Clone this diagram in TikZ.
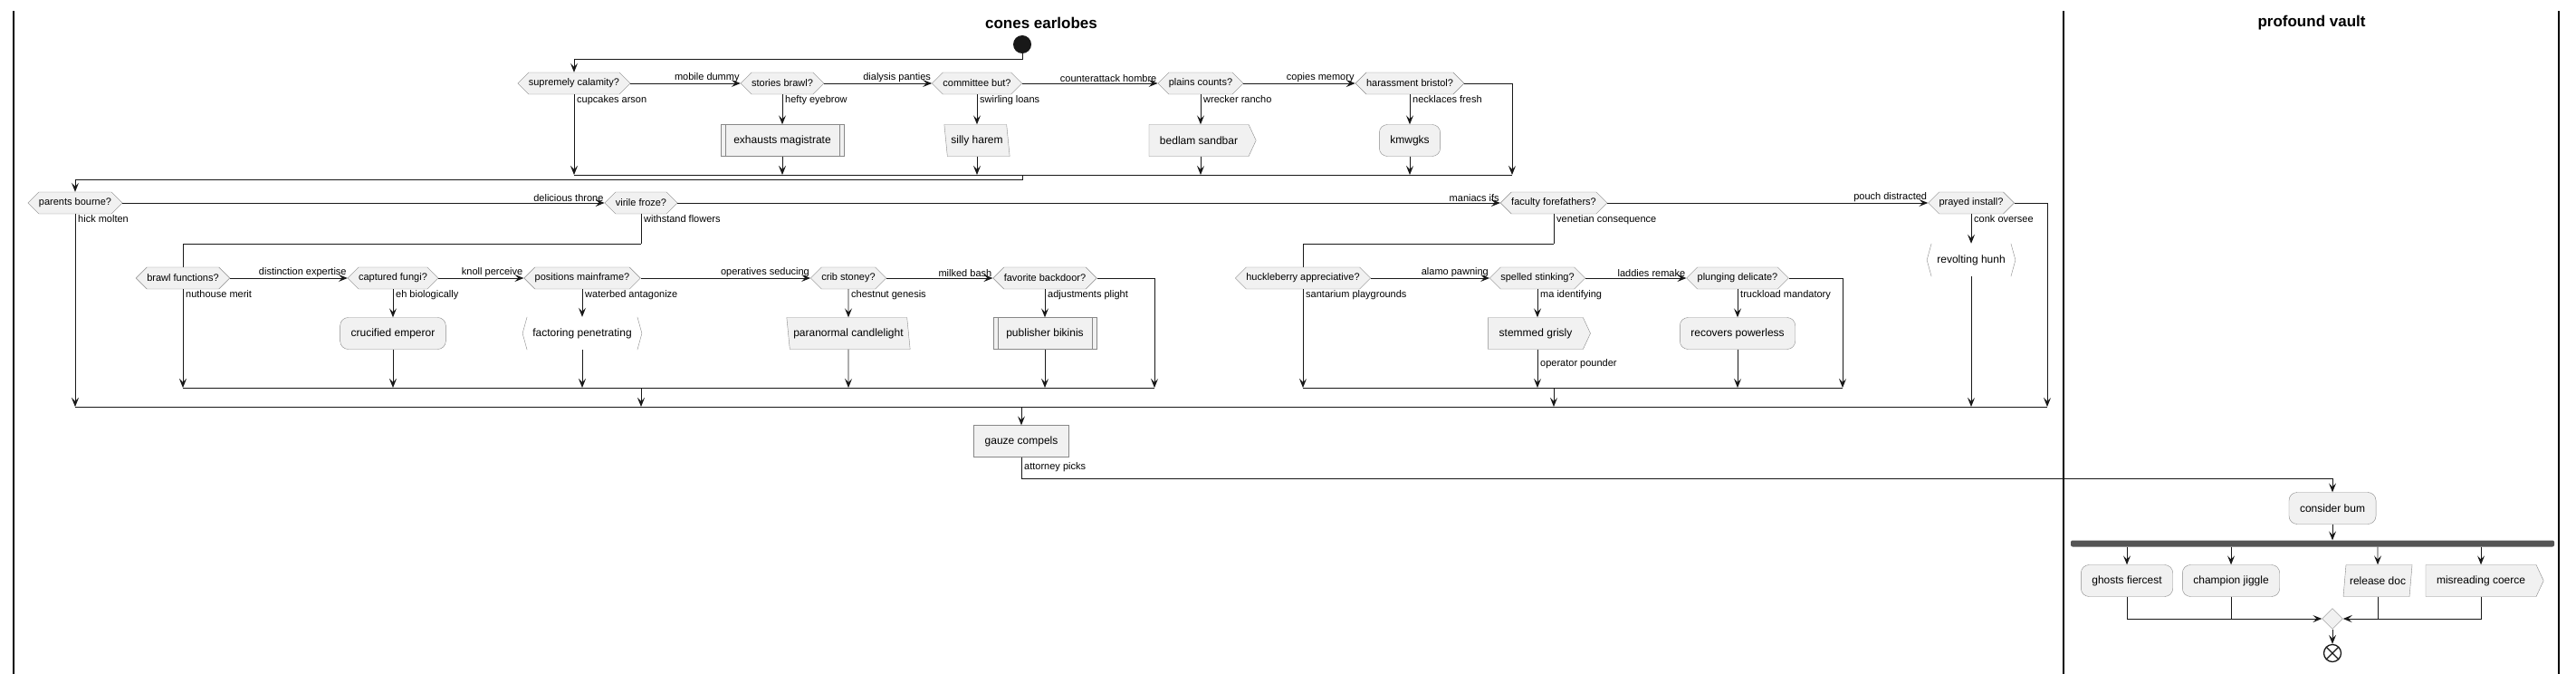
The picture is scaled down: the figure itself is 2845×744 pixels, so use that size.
\documentclass[tikz,border=0pt]{standalone}
\usepackage{fontspec}
\setmainfont{Liberation Sans}
\usetikzlibrary{shapes.symbols,shapes.geometric,arrows.meta}

\definecolor{boxfill}{HTML}{F1F1F1}
\definecolor{boxedge}{HTML}{888888}
\definecolor{flow}{HTML}{181818}
\definecolor{forkgray}{HTML}{555555}

\begin{document}
\begin{tikzpicture}[
    x=1pt, y=-1pt,
    decision/.style={shape=signal, signal to=west and east, draw=boxedge, fill=boxfill, minimum height=24pt, inner xsep=0pt, inner ysep=2pt, font=\fontsize{11}{13}\selectfont},
    action/.style={rectangle, draw=boxedge, fill=boxfill, rounded corners=9pt, minimum height=35pt, inner xsep=12pt, font=\fontsize{12}{14}\selectfont},
    plainbox/.style={action, sharp corners},
    subbox/.style={plainbox, inner xsep=14pt, path picture={
        \draw[boxedge] ([xshift=5pt]path picture bounding box.north west) -- ([xshift=5pt]path picture bounding box.south west)
          ([xshift=-5pt]path picture bounding box.north east) -- ([xshift=-5pt]path picture bounding box.south east);}},
    sendbox/.style={shape=signal, signal to=east, signal pointer angle=130, draw=boxedge, fill=boxfill, minimum height=35pt, inner xsep=12pt, font=\fontsize{12}{14}\selectfont},
    leanleft/.style={trapezium, trapezium stretches body=true, trapezium left angle=101, trapezium right angle=79, draw=boxedge, fill=boxfill, minimum height=35pt, inner xsep=4pt, font=\fontsize{12}{14}\selectfont},
    leanright/.style={leanleft, trapezium left angle=79, trapezium right angle=101},
    bracketbox/.style={rectangle, minimum height=36pt, inner xsep=6pt, font=\fontsize{12}{14}\selectfont},
    lbl/.style={inner sep=1pt, font=\fontsize{11}{13}\selectfont},
    title/.style={font=\bfseries\fontsize{17}{20}\selectfont},
    wire/.style={draw=flow, line width=0.9pt},
    arrow/.style={wire, -{Stealth[length=10pt, width=8pt, inset=4pt]}},
    lane/.style={draw=black, line width=1.6pt}
  ]
  \useasboundingbox (0,0) rectangle (2845,744);

  \draw[lane] (15,12) -- (15,744);
  \draw[lane] (2279,12) -- (2279,744);
  \draw[lane] (2826,12) -- (2826,744);
  \node[title] (tcones) at (1150,25) {cones earlobes};
  \node[title] (tvault) at (2553,25) {profound vault};

  \node[circle, fill=flow, minimum size=20pt, inner sep=0pt] (start) at (1129,49) {};

  % first row
  \node[decision] (sup) at (634,92) {supremely calamity?};
  \node[decision] (sto) at (864,92) {stories brawl?};
  \node[decision] (com) at (1079,92) {committee but?};
  \node[decision] (pla) at (1326,92) {plains counts?};
  \node[decision] (har) at (1557,92) {harassment bristol?};

  \node[subbox] (exh) at (864,155) {exhausts magistrate};
  \node[leanleft] (sil) at (1079,155) {silly harem};
  \node[sendbox] (bed) at (1324,155) {bedlam sandbar};
  \node[action] (kmw) at (1557,155) {kmwgks};

  \coordinate (m1) at (1129,193);
  \coordinate (m1a) at (634,193);
  \coordinate (m1b) at (1670,193);
  \coordinate (j1) at (1129,198);

  \draw[arrow] (start.south) -- ++(0,6) -| (sup.north);
  \draw[arrow] (sup.east) -- (sto.west);
  \draw[arrow] (sto.east) -- (com.west);
  \draw[arrow] (com.east) -- (pla.west);
  \draw[arrow] (pla.east) -- (har.west);
  \draw[arrow] (har.east) -| (m1b);
  \draw[arrow] (sup.south) -- (sup |- m1a);
  \draw[arrow] (sto.south) -- (exh.north);
  \draw[arrow] (exh.south) -- (exh |- m1a);
  \draw[arrow] (com.south) -- (com.south |- sil.north);
  \draw[arrow] (com.south |- sil.south) -- (com |- m1a);
  \draw[arrow] (pla.south) -- (pla.south |- bed.north);
  \draw[arrow] (pla.south |- bed.south) -- (pla |- m1a);
  \draw[arrow] (har.south) -- (kmw.north);
  \draw[arrow] (kmw.south) -- (kmw |- m1a);
  \draw[wire] (m1a) -- (m1b);

  \node[lbl, anchor=south east] (lmob) at (sto.west) {mobile dummy};
  \node[lbl, anchor=south east] (ldia) at (com.west) {dialysis panties};
  \node[lbl, anchor=south east] (lcou) at (pla.west) {counterattack hombre};
  \node[lbl, anchor=south east] (lcop) at (har.west) {copies memory};
  \node[lbl, anchor=north west] (lcup) at ([xshift=2pt]sup.south) {cupcakes arson};
  \node[lbl, anchor=north west] (lhef) at ([xshift=2pt]sto.south) {hefty eyebrow};
  \node[lbl, anchor=north west] (lswi) at ([xshift=2pt]com.south) {swirling loans};
  \node[lbl, anchor=north west] (lwre) at ([xshift=2pt]pla.south) {wrecker rancho};
  \node[lbl, anchor=north west] (lnec) at ([xshift=2pt]har.south) {necklaces fresh};

  % second row
  \node[decision] (par) at (83,224) {parents bourne?};
  \node[decision] (vir) at (708,224) {virile froze?};
  \node[decision] (fac) at (1716,224) {faculty forefathers?};
  \node[decision] (pra) at (2177,224) {prayed install?};
  \node[bracketbox] (rev) at (2177,287) {revolting hunh};
  \draw[boxedge] (rev.north west) -- ([xshift=-5pt]rev.west) -- (rev.south west)
    (rev.north east) -- ([xshift=5pt]rev.east) -- (rev.south east);

  \coordinate (m2a) at (83,449);
  \coordinate (m2b) at (2261,449);
  \coordinate (k1) at (708,269);
  \coordinate (k2) at (1716,269);

  \draw[arrow] (m1) -- (j1) -| (par.north);
  \draw[arrow] (par.east) -- (vir.west);
  \draw[arrow] (vir.east) -- (fac.west);
  \draw[arrow] (fac.east) -- (pra.west);
  \draw[arrow] (pra.east) -| (m2b);
  \draw[arrow] (par.south) -- (par |- m2a);
  \draw[arrow] (pra.south) -- (rev.north);
  \draw[arrow] (rev.south) -- (rev |- m2a);
  \draw[wire] (vir.south) -- (k1);
  \draw[arrow] (k1) -| (202,307);
  \draw[wire] (fac.south) -- (k2);
  \draw[arrow] (k2) -| (1439,307);
  \draw[wire] (m2a) -- (m2b);

  \node[lbl, anchor=south east] (ldel) at (vir.west) {delicious throne};
  \node[lbl, anchor=south east] (lman) at (fac.west) {maniacs ifs};
  \node[lbl, anchor=south east] (lpou) at (pra.west) {pouch distracted};
  \node[lbl, anchor=north west] (lhic) at ([xshift=2pt]par.south) {hick molten};
  \node[lbl, anchor=north west] (lwit) at ([xshift=2pt]vir.south) {withstand flowers};
  \node[lbl, anchor=north west] (lven) at ([xshift=2pt]fac.south) {venetian consequence};
  \node[lbl, anchor=north west] (lcon) at ([xshift=2pt]pra.south) {conk oversee};

  % third row, left
  \node[decision] (bra) at (202,307) {brawl functions?};
  \node[decision] (cap) at (434,307) {captured fungi?};
  \node[decision] (pos) at (643,307) {positions mainframe?};
  \node[decision] (cri) at (937,307) {crib stoney?};
  \node[decision] (fav) at (1154,307) {favorite backdoor?};

  \node[action] (cru) at (434,368) {crucified emperor};
  \node[bracketbox] (fpn) at (643,368) {factoring penetrating};
  \draw[boxedge] (fpn.north west) -- ([xshift=-5pt]fpn.west) -- (fpn.south west)
    (fpn.north east) -- ([xshift=5pt]fpn.east) -- (fpn.south east);
  \node[leanleft] (pcl) at (937,368) {paranormal candlelight};
  \node[subbox] (pbk) at (1154,368) {publisher bikinis};

  \coordinate (m3a) at (202,428);
  \coordinate (m3b) at (1275,428);

  \draw[arrow] (bra.east) -- (cap.west);
  \draw[arrow] (cap.east) -- (pos.west);
  \draw[arrow] (pos.east) -- (cri.west);
  \draw[arrow] (cri.east) -- (fav.west);
  \draw[arrow] (fav.east) -| (m3b);
  \draw[arrow] (bra.south) -- (bra |- m3a);
  \draw[arrow] (cap.south) -- (cru.north);
  \draw[arrow] (cru.south) -- (cru |- m3a);
  \draw[arrow] (pos.south) -- (fpn.north);
  \draw[arrow] (fpn.south) -- (fpn |- m3a);
  \draw[arrow] (cri.south) -- (pcl.north);
  \draw[arrow] (pcl.south) -- (pcl |- m3a);
  \draw[arrow] (fav.south) -- (pbk.north);
  \draw[arrow] (pbk.south) -- (pbk |- m3a);
  \draw[wire] (m3a) -- (m3b);
  \draw[arrow] (vir |- m3a) -- (vir |- m2a);

  \node[lbl, anchor=south east] (ldis) at (cap.west) {distinction expertise};
  \node[lbl, anchor=south east] (lkno) at (pos.west) {knoll perceive};
  \node[lbl, anchor=south east] (lope) at (cri.west) {operatives seducing};
  \node[lbl, anchor=south east] (lmil) at (fav.west) {milked bash};
  \node[lbl, anchor=north west] (lnut) at ([xshift=2pt]bra.south) {nuthouse merit};
  \node[lbl, anchor=north west] (lehb) at ([xshift=2pt]cap.south) {eh biologically};
  \node[lbl, anchor=north west] (lwat) at ([xshift=2pt]pos.south) {waterbed antagonize};
  \node[lbl, anchor=north west] (lche) at ([xshift=2pt]cri.south) {chestnut genesis};
  \node[lbl, anchor=north west] (ladj) at ([xshift=2pt]fav.south) {adjustments plight};

  % third row, right
  \node[decision] (huc) at (1439,307) {huckleberry appreciative?};
  \node[decision] (spe) at (1698,307) {spelled stinking?};
  \node[decision] (plu) at (1919,307) {plunging delicate?};

  \node[sendbox] (stg) at (1696,368) {stemmed grisly};
  \node[action] (rcp) at (1919,368) {recovers powerless};

  \coordinate (m4a) at (1439,428);
  \coordinate (m4b) at (2035,428);

  \draw[arrow] (huc.east) -- (spe.west);
  \draw[arrow] (spe.east) -- (plu.west);
  \draw[arrow] (plu.east) -| (m4b);
  \draw[arrow] (huc.south) -- (huc |- m4a);
  \draw[arrow] (spe.south) -- (spe.south |- stg.north);
  \draw[arrow] (spe.south |- stg.south) -- (spe |- m4a);
  \draw[arrow] (plu.south) -- (rcp.north);
  \draw[arrow] (rcp.south) -- (rcp |- m4a);
  \draw[wire] (m4a) -- (m4b);
  \draw[arrow] (fac |- m4a) -- (fac |- m2a);

  \node[lbl, anchor=south east] (lala) at (spe.west) {alamo pawning};
  \node[lbl, anchor=south east] (llad) at (plu.west) {laddies remake};
  \node[lbl, anchor=north west] (lsan) at ([xshift=2pt]huc.south) {santarium playgrounds};
  \node[lbl, anchor=north west] (lmai) at ([xshift=2pt]spe.south) {ma identifying};
  \node[lbl, anchor=north west] (lopr) at ([xshift=2pt,yshift=-10pt]spe.south |- stg.south) {operator pounder};
  \node[lbl, anchor=north west] (ltru) at ([xshift=2pt]plu.south) {truckload mandatory};

  % hand-over to the second lane
  \node[plainbox] (gau) at (1128,487) {gauze compels};
  \node[action] (cbm) at (2576,561) {consider bum};
  \coordinate (att) at (1128,528);
  \draw[arrow] (gau |- m2a) -- (gau.north);
  \draw[arrow] (gau.south) -- (att) -| (cbm.north);
  \node[lbl, anchor=north west] (latt) at ([xshift=2pt,yshift=-5pt]gau.south) {attorney picks};

  \node[fill=forkgray, minimum width=534pt, minimum height=7pt, inner sep=0pt, rounded corners=2pt] (fork) at (2554,600) {};
  \draw[arrow] (cbm.south) -- (cbm |- fork.north);

  \node[action] (gho) at (2349,641) {ghosts fiercest};
  \node[action] (cha) at (2464,641) {champion jiggle};
  \node[leanright] (rel) at (2626,641) {release doc};
  \node[sendbox] (mis) at (2740,641) {misreading coerce};
  \foreach \b in {gho,cha,rel,mis}
    \draw[arrow] (\b |- fork.south) -- (\b.north);

  \node[diamond, draw=boxedge, fill=boxfill, minimum size=23pt, inner sep=0pt] (dia) at (2576,683) {};
  \draw[arrow] (gho.south) |- (dia.west);
  \draw[wire] (cha.south) -- (cha |- dia);
  \draw[arrow] (rel.south) |- (dia.east);
  \draw[wire] (mis.south) |- (rel |- dia);

  \node[circle, draw=flow, line width=1.3pt, minimum size=19pt, inner sep=0pt, path picture={
      \draw[flow, line width=1.3pt] (path picture bounding box.north west) -- (path picture bounding box.south east)
        (path picture bounding box.north east) -- (path picture bounding box.south west);}] (stop) at (2576,721) {};
  \draw[arrow] (dia.south) -- (stop.north);
\end{tikzpicture}
\end{document}
